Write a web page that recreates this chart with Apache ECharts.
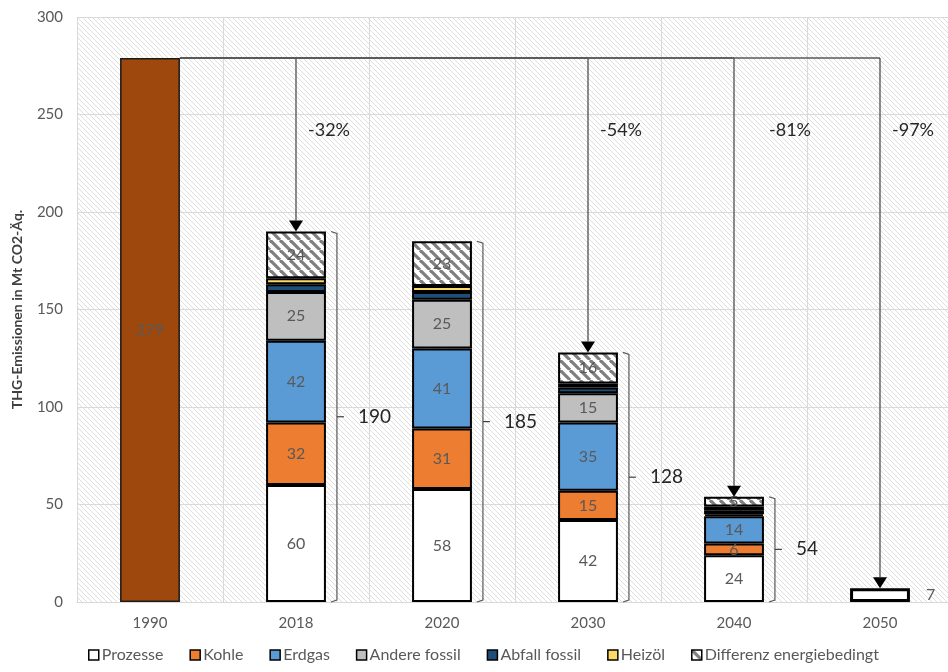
<!DOCTYPE html>
<html><head><meta charset="utf-8">
<script src="https://cdn.jsdelivr.net/npm/echarts@6/dist/echarts.min.js"></script>
<style>html,body{margin:0;padding:0;background:#fff}#c{width:948px;height:672px}</style>
</head><body><div id="c"></div>
<script>
const years = ['1990','2018','2020','2030','2040','2050'];
const basis = [279, null, null, null, null, 7];
const prozesse = [null, 60, 58, 42, 24, null];
const kohle = [null, 32, 31, 15, 6, null];
const erdgas = [null, 42, 41, 35, 14, null];
const andere = [null, 25, 25, 15, 1, null];
const abfall = [null, 4, 4, 3, 2, null];
const heizoel = [null, 3, 3, 2, 2, null];
const differenz = [null, 24, 23, 16, 5, null];
const totals = [null, 190, 185, 128, 54, null];
const arrowTargets = [1, 3, 4, 5];
const arrowLabels = ['-32%', '-54%', '-81%', '-97%'];
const refValue = 279;
const labelLevel = 242;
const yTicks = [0, 50, 100, 150, 200, 250, 300];

function makePattern(size, bg, fg, lw) {
  const c = document.createElement('canvas');
  c.width = size; c.height = size;
  const g = c.getContext('2d');
  g.fillStyle = bg; g.fillRect(0, 0, size, size);
  g.strokeStyle = fg; g.lineWidth = lw;
  for (let o = -size; o <= size; o += size) {
    g.beginPath(); g.moveTo(o, 0); g.lineTo(o + size, size); g.stroke();
  }
  return { image: c, repeat: 'repeat' };
}
const bgPattern = makePattern(5, '#ffffff', '#dedede', 1);
const hatchPattern = makePattern(10, '#ffffff', '#7f7f7f', 3.2);

const FONT = 'Lato, "Open Sans", sans-serif';
const labelGray = '#595959';
const BW = '41%';

function stackSeries(name, data, color, showLabel) {
  return {
    name, type: 'bar', stack: 'a', data, barWidth: BW,
    itemStyle: { color, borderColor: '#000', borderWidth: 2 },
    label: {
      show: showLabel, position: 'inside', color: labelGray, fontSize: 16, fontFamily: FONT,
      formatter: p => (p.value >= 5 ? p.value : '')
    },
    emphasis: { disabled: true }
  };
}

const chart = echarts.init(document.getElementById('c'), null, { renderer: 'canvas' });

const series = [
  {
    name: 'Basis', type: 'bar', stack: 'a', barWidth: BW,
    data: basis.map((v, i) => {
      if (v == null) return '-';
      if (i === 0) return { value: v, itemStyle: { color: '#9E480E', borderColor: '#1a1a1a', borderWidth: 1.5 },
        label: { show: true, position: 'inside', color: labelGray } };
      return { value: v, itemStyle: { color: '#ffffff', borderColor: '#000', borderWidth: 3 },
        label: { show: true, position: 'right', distance: 16, color: labelGray } };
    }),
    label: { fontSize: 16, fontFamily: FONT },
    emphasis: { disabled: true }
  },
  stackSeries('Prozesse', prozesse, '#ffffff', true),
  stackSeries('Kohle', kohle, '#ED7D31', true),
  stackSeries('Erdgas', erdgas, '#5B9BD5', true),
  stackSeries('Andere fossil', andere, '#BFBFBF', true),
  stackSeries('Abfall fossil', abfall, '#1F4E79', false),
  stackSeries('Heizöl', heizoel, '#FFD966', false),
  stackSeries('Differenz energiebedingt', differenz, hatchPattern, true),
  {
    name: 'brackets', type: 'custom', silent: true, z: 5,
    data: totals.map((v, i) => [i, v == null ? '-' : v]),
    renderItem: function (params, api) {
      const v = api.value(1);
      if (v == null || isNaN(v)) return;
      const i = api.value(0);
      const band = api.size([1, 0])[0];
      const top = api.coord([i, v]);
      const bot = api.coord([i, 0]);
      const right = top[0] + band * 0.205;
      const x0 = right + 5, x1 = right + 11;
      const ym = (top[1] + bot[1]) / 2;
      return {
        type: 'group', children: [
          { type: 'polyline', shape: { points: [[x0, top[1]], [x1, top[1] + 2], [x1, bot[1] - 2], [x0, bot[1]]] },
            style: { stroke: '#595959', lineWidth: 1.2, fill: null } },
          { type: 'line', shape: { x1: x1, y1: ym, x2: x1 + 7, y2: ym }, style: { stroke: '#404040', lineWidth: 1.2 } },
          { type: 'text', x: x1 + 21, y: ym, style: { text: String(v), fontSize: 19, fontFamily: FONT,
            fill: '#262626', verticalAlign: 'middle', align: 'left' } }
        ]
      };
    }
  },
  {
    name: 'arrows', type: 'custom', silent: true, z: 6,
    data: arrowTargets.map((c, k) => [c, basis[c] != null ? basis[c] : totals[c], k]),
    renderItem: function (params, api) {
      const i = api.value(0);
      const target = api.value(1);
      const k = api.value(2);
      const band = api.size([1, 0])[0];
      const start = api.coord([0, refValue]);
      const startX = start[0] + band * 0.205;
      const top = api.coord([i, refValue]);
      const tip = api.coord([i, target]);
      const ah = 11, aw = 7;
      const off = k === 2 ? 35 : 12;
      const ly = api.coord([i, labelLevel])[1];
      return {
        type: 'group', children: [
          { type: 'line', shape: { x1: startX, y1: top[1], x2: top[0], y2: top[1] }, style: { stroke: '#595959', lineWidth: 1.4 } },
          { type: 'line', shape: { x1: top[0], y1: top[1], x2: tip[0], y2: tip[1] - ah }, style: { stroke: '#404040', lineWidth: 1.2 } },
          { type: 'polygon', shape: { points: [[tip[0] - aw, tip[1] - ah], [tip[0] + aw, tip[1] - ah], [tip[0], tip[1]]] },
            style: { fill: '#000' } },
          { type: 'text', x: top[0] + off, y: ly, style: { text: arrowLabels[k], fontSize: 18, fontFamily: FONT,
            fill: '#262626', align: 'left', verticalAlign: 'middle' } }
        ]
      };
    }
  }
];

chart.setOption({
  animation: false,
  textStyle: { fontFamily: FONT },
  grid: { left: 77, top: 17, right: -5, bottom: 70, show: true, backgroundColor: bgPattern, borderWidth: 0,
    containLabel: false, outerBoundsMode: 'none' },
  xAxis: {
    type: 'category', data: years,
    axisTick: { show: false },
    axisLine: { lineStyle: { color: '#d9d9d9', width: 1 } },
    splitLine: { show: true, lineStyle: { color: '#d9d9d9', width: 1 } },
    axisLabel: { color: labelGray, fontSize: 15, margin: 14, fontFamily: FONT }
  },
  yAxis: {
    type: 'value', min: yTicks[0], max: yTicks[yTicks.length - 1], interval: 50,
    axisLine: { show: false }, axisTick: { show: false },
    splitLine: { lineStyle: { color: '#d9d9d9', width: 1 } },
    axisLabel: { color: labelGray, fontSize: 15, margin: 14, fontFamily: FONT },
    name: 'THG-Emissionen in Mt CO2-Äq.', nameLocation: 'middle', nameGap: 53, nameRotate: 90,
    nameTextStyle: { color: '#404040', fontSize: 14, fontWeight: 'bold', fontFamily: FONT }
  },
  legend: {
    bottom: 4, left: 83, itemWidth: 10, itemHeight: 10, itemGap: 26,
    data: ['Prozesse', 'Kohle', 'Erdgas', 'Andere fossil', 'Abfall fossil', 'Heizöl', 'Differenz energiebedingt'],
    icon: 'rect',
    itemStyle: { borderColor: '#000', borderWidth: 1.5 },
    textStyle: { color: labelGray, fontSize: 16, fontFamily: FONT, padding: [0, 0, 0, -2] }
  },
  series
});
</script></body></html>
